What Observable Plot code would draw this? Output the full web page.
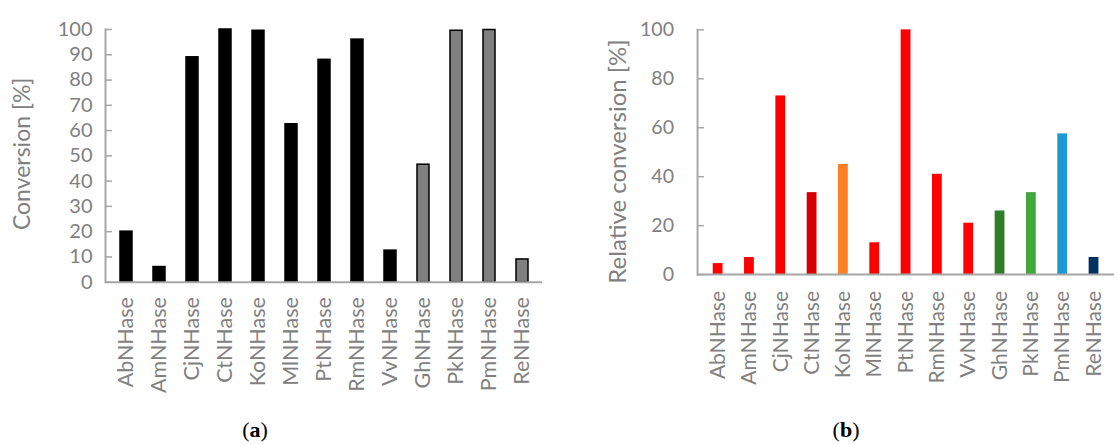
<!DOCTYPE html>
<html><head><meta charset="utf-8">
<script src="https://cdn.jsdelivr.net/npm/d3@7"></script>
<script src="https://cdn.jsdelivr.net/npm/@observablehq/plot@0.6"></script>
<style>
html,body{margin:0;padding:0;background:#fff;}
#wrap{position:relative;width:1118px;height:445px;overflow:hidden;background:#fff;}
#a{position:absolute;left:0;top:0;}
#b{position:absolute;left:560px;top:0;}
.cap{position:absolute;top:419px;font-family:"Liberation Serif",serif;font-size:22px;line-height:22px;color:#000;transform:translateX(-50%);white-space:nowrap;}
</style></head><body>
<div id="wrap"><div id="a"></div><div id="b"></div>
<div class="cap" style="left:255px">(<b>a</b>)</div>
<div class="cap" style="left:846px">(<b>b</b>)</div></div>
<script>
// ---- data ----
const enzymes = ["AbNHase","AmNHase","CjNHase","CtNHase","KoNHase","MlNHase","PtNHase","RmNHase","VvNHase","GhNHase","PkNHase","PmNHase","ReNHase"];
const conversionA = [20, 6, 89, 100, 99.5, 62.5, 88, 96, 12.5, 46.5, 99.5, 99.8, 9];
const groupA = ["set1","set1","set1","set1","set1","set1","set1","set1","set1","set2","set2","set2","set2"];
const relativeB = [4.5, 7, 73, 33.5, 45, 13, 100, 41, 21, 26, 33.5, 57.5, 7];
const ticksA = [0,10,20,30,40,50,60,70,80,90,100];
const ticksB = [0,20,40,60,80,100];
const titleA = "Conversion [%]";
const titleB = "Relative conversion [%]";

// ---- styles ----
const groupColorsA = ["#000000", "#808080"];
const barColorsB = ["#ff0000","#ff0000","#ff0000","#d60000","#ff7f27","#ff0000","#ff0000","#ff0000","#ff0000","#2e7d28","#43a83b","#1d9ad6","#00335f"];
const textGrey = "#808080";
const axisGrey = "#a6a6a6";
const font = "Lato, 'Open Sans', sans-serif";

const rowsA = enzymes.map((e, i) => ({enzyme: e, value: conversionA[i], group: groupA[i]}));
const rowsB = enzymes.map((e, i) => ({enzyme: e, value: relativeB[i]}));

const chartA = Plot.plot({
  width: 560, height: 400,
  marginTop: 29, marginBottom: 118.3, marginLeft: 105, marginRight: 18,
  style: {fontFamily: font, fontSize: "20px", color: textGrey, background: "transparent", overflow: "visible"},
  x: {domain: enzymes, padding: 0.643, paddingOuter: 0.3215, label: null},
  y: {domain: [0, 100], label: null},
  color: {domain: ["set1","set2"], range: groupColorsA},
  marks: [
    Plot.barY(rowsA, {x: "enzyme", y: "value", fill: "group", stroke: "#000", strokeWidth: 1.5}),
    Plot.ruleY([0], {stroke: axisGrey, strokeWidth: 2}),
    Plot.frame({anchor: "left", stroke: axisGrey, strokeWidth: 2}),
    Plot.axisY({ticks: ticksA, tickSize: -7, tickPadding: 20, stroke: axisGrey, strokeWidth: 1.5, label: null}),
    Plot.axisX({tickRotate: -90, tickSize: 0, tickPadding: 15, fontSize: 21.5, label: null}),
    Plot.text([titleA], {frameAnchor: "left", textAnchor: "middle", rotate: -90, dx: -83, dy: -2, fontSize: 23})
  ]
});
document.getElementById("a").appendChild(chartA);

const chartB = Plot.plot({
  width: 570, height: 400,
  marginTop: 30, marginBottom: 120, marginLeft: 140, marginRight: 4,
  style: {fontFamily: font, fontSize: "20px", color: textGrey, background: "transparent", overflow: "visible"},
  x: {domain: enzymes, padding: 0.673, paddingOuter: 0.3365, label: null},
  y: {domain: [0, 100], label: null},
  color: {domain: enzymes, range: barColorsB},
  marks: [
    Plot.barY(rowsB, {x: "enzyme", y: "value", fill: "enzyme"}),
    Plot.ruleY([0], {stroke: axisGrey, strokeWidth: 2}),
    Plot.frame({anchor: "left", stroke: axisGrey, strokeWidth: 2}),
    Plot.axisY({ticks: ticksB, tickSize: -7, tickPadding: 31, stroke: axisGrey, strokeWidth: 1.5, label: null}),
    Plot.axisX({tickRotate: -90, tickSize: 0, tickPadding: 16.7, fontSize: 21.5, label: null}),
    Plot.text([titleB], {frameAnchor: "left", textAnchor: "middle", rotate: -90, dx: -81, dy: 9.5, fontSize: 24.5})
  ]
});
document.getElementById("b").appendChild(chartB);
</script>
</body></html>
